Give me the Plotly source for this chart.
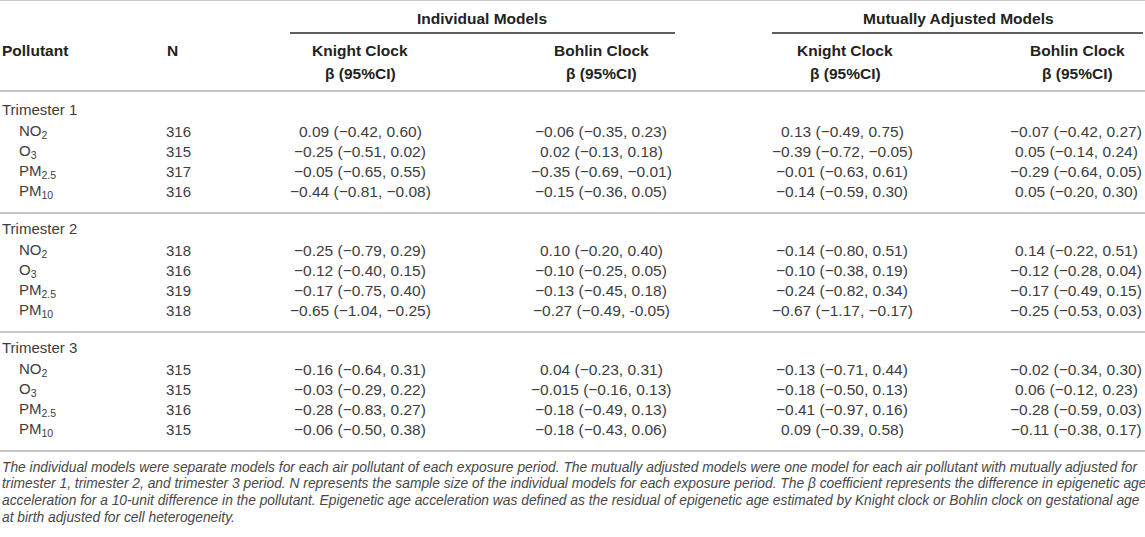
import plotly.graph_objects as go

# table content
periods = ["Trimester 1", "Trimester 2", "Trimester 3"]
pollutants = ["NO<sub>2</sub>", "O<sub>3</sub>", "PM<sub>2.5</sub>", "PM<sub>10</sub>"]

n_values = [
    [316, 315, 317, 316],
    [318, 316, 319, 318],
    [315, 315, 316, 315],
]
knight_ind = [
    ["0.09 (−0.42, 0.60)", "−0.25 (−0.51, 0.02)", "−0.05 (−0.65, 0.55)", "−0.44 (−0.81, −0.08)"],
    ["−0.25 (−0.79, 0.29)", "−0.12 (−0.40, 0.15)", "−0.17 (−0.75, 0.40)", "−0.65 (−1.04, −0.25)"],
    ["−0.16 (−0.64, 0.31)", "−0.03 (−0.29, 0.22)", "−0.28 (−0.83, 0.27)", "−0.06 (−0.50, 0.38)"],
]
bohlin_ind = [
    ["−0.06 (−0.35, 0.23)", "0.02 (−0.13, 0.18)", "−0.35 (−0.69, −0.01)", "−0.15 (−0.36, 0.05)"],
    ["0.10 (−0.20, 0.40)", "−0.10 (−0.25, 0.05)", "−0.13 (−0.45, 0.18)", "−0.27 (−0.49, -0.05)"],
    ["0.04 (−0.23, 0.31)", "−0.015 (−0.16, 0.13)", "−0.18 (−0.49, 0.13)", "−0.18 (−0.43, 0.06)"],
]
knight_mut = [
    ["0.13 (−0.49, 0.75)", "−0.39 (−0.72, −0.05)", "−0.01 (−0.63, 0.61)", "−0.14 (−0.59, 0.30)"],
    ["−0.14 (−0.80, 0.51)", "−0.10 (−0.38, 0.19)", "−0.24 (−0.82, 0.34)", "−0.67 (−1.17, −0.17)"],
    ["−0.13 (−0.71, 0.44)", "−0.18 (−0.50, 0.13)", "−0.41 (−0.97, 0.16)", "0.09 (−0.39, 0.58)"],
]
bohlin_mut = [
    ["−0.07 (−0.42, 0.27)", "0.05 (−0.14, 0.24)", "−0.29 (−0.64, 0.05)", "0.05 (−0.20, 0.30)"],
    ["0.14 (−0.22, 0.51)", "−0.12 (−0.28, 0.04)", "−0.17 (−0.49, 0.15)", "−0.25 (−0.53, 0.03)"],
    ["−0.02 (−0.34, 0.30)", "0.06 (−0.12, 0.23)", "−0.28 (−0.59, 0.03)", "−0.11 (−0.38, 0.17)"],
]

group_headers = ["Individual Models", "Mutually Adjusted Models"]
clock_headers = ["Knight Clock", "Bohlin Clock", "Knight Clock", "Bohlin Clock"]
beta_header = "β (95%CI)"

caption_lines = [
    "The individual models were separate models for each air pollutant of each exposure period. The mutually adjusted models were one model for each air pollutant with mutually adjusted for",
    "trimester 1, trimester 2, and trimester 3 period. N represents the sample size of the individual models for each exposure period. The β coefficient represents the difference in epigenetic age",
    "acceleration for a 10-unit difference in the pollutant. Epigenetic age acceleration was defined as the residual of epigenetic age estimated by Knight clock or Bohlin clock on gestational age",
    "at birth adjusted for cell heterogeneity.",
]

# layout (pixel coordinates of the page)
W, H = 1145, 537
FONT = "Liberation Sans, Arial, sans-serif"
TXT = "#3d3d3d"
HEAD = "#222222"
GRID = "#c8c8c8"

col_value_x = [360, 601, 842, 1076]
col_head_x = [360, 601, 845, 1077]
group_head_x = [482, 958]
group_line = [(290, 675), (772, 1143)]

group_y0 = 109
group_pitch = 119
row_off = 22
row_step = 20

fig = go.Figure()
ann = []
shapes = []


def text(x, y, s, anchor="center", bold=False, color=TXT, size=15, italic=False):
    if bold:
        s = "<b>" + s + "</b>"
    if italic:
        s = "<i>" + s + "</i>"
    ann.append(dict(x=x, y=y, xref="x", yref="y", text=s, showarrow=False,
                    xanchor=anchor, yanchor="middle",
                    font=dict(family=FONT, size=size, color=color)))


def hline(x0, x1, y, color=GRID, width=1.8):
    shapes.append(dict(type="line", xref="x", yref="y", x0=x0, x1=x1, y0=y, y1=y,
                       line=dict(color=color, width=width)))


# header
hline(0, W, 0.5, width=1.2)
for label, x, (a, b) in zip(group_headers, group_head_x, group_line):
    text(x, 18, label, bold=True, color=HEAD, size=15.5)
    hline(a, b, 33, color="#2a2a2a", width=1.6)
text(0, 50, "Pollutant", anchor="left", bold=True, color=HEAD, size=15.5)
text(172, 50, "N", bold=True, color=HEAD, size=15.5)
for label, x in zip(clock_headers, col_head_x):
    text(x, 50, label, bold=True, color=HEAD, size=15.5)
    text(x, 73, beta_header, bold=True, color=HEAD, size=15.5)
hline(0, W, 91)

# body
columns = [knight_ind, bohlin_ind, knight_mut, bohlin_mut]
for g, period in enumerate(periods):
    gy = group_y0 + g * group_pitch
    text(0, gy, period, anchor="left")
    for i, pol in enumerate(pollutants):
        ry = gy + row_off + i * row_step
        text(17, ry, pol, anchor="left")
        text(178, ry, str(n_values[g][i]))
        for cx, col in zip(col_value_x, columns):
            text(cx, ry, col[g][i], size=15.5)
    hline(0, W, gy + row_off + 3 * row_step + 22)

# footnote
cap_y0 = 467
for k, line in enumerate(caption_lines):
    text(0, cap_y0 + k * 16.7, line, anchor="left", italic=True, size=13.8, color="#474747")

fig.update_layout(
    width=W, height=H,
    margin=dict(l=0, r=0, t=0, b=0),
    paper_bgcolor="white", plot_bgcolor="white",
    xaxis=dict(range=[0, W], visible=False, fixedrange=True),
    yaxis=dict(range=[H, 0], visible=False, fixedrange=True),
    annotations=ann, shapes=shapes, showlegend=False,
)

# drop the browser's default body margin so the table starts at the page corner
fig.write_html("out.html", config={"displayModeBar": False},
               post_script="document.body.style.margin='0';")
